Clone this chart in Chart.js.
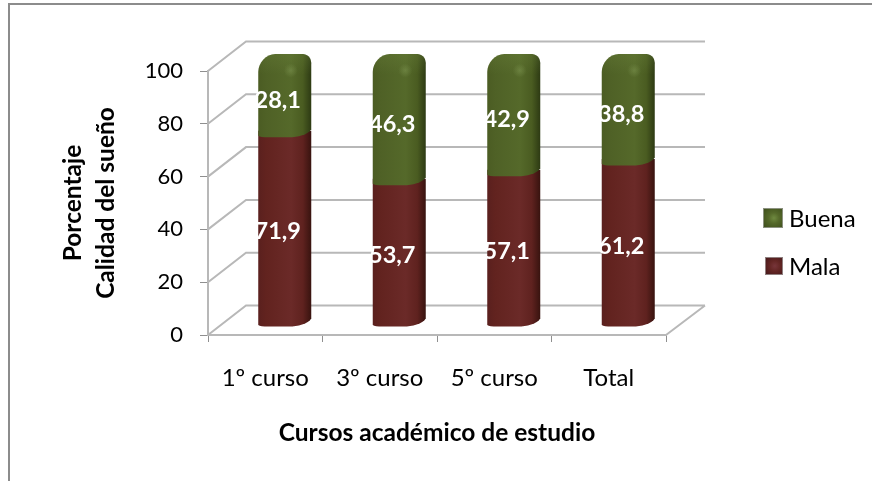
<!DOCTYPE html>
<html lang="es">
<head>
<meta charset="utf-8">
<title>Calidad del sueño</title>
<script src="https://cdn.jsdelivr.net/npm/chart.js@4"></script>
<style>
  html, body { margin: 0; padding: 0; background: #fff; }
  body { width: 872px; height: 481px; overflow: hidden; position: relative; font-family: Lato, sans-serif; }
  #frame { position: absolute; left: 8px; top: 3px; right: 0; bottom: 0; border-left: 2px solid #8c8c8c; border-top: 2px solid #8c8c8c; }
  canvas { position: absolute; left: 0; top: 0; }
  #legend { position: absolute; left: 763px; top: 198px; color: #000; font-size: 24px; }
  #legend div { position: absolute; left: 0; white-space: nowrap; height: 24px; line-height: 24px; }
  #legend i { position: absolute; box-sizing: border-box; border: 1px solid rgba(170,170,170,.7); }
  #legend span { position: absolute; left: 26px; top: 0; }
</style>
</head>
<body>
<div id="frame"></div>
<canvas id="chart" width="872" height="481"></canvas>
<div id="legend"></div>
<script>
const categories = ["1º curso", "3º curso", "5º curso", "Total"];
const mala = [71.9, 53.7, 57.1, 61.2];
const buena = [28.1, 46.3, 42.9, 38.8];
const yTicks = [0, 20, 40, 60, 80, 100];

const DEPTH_X = 38, DEPTH_Y = -29.5;   // oblique projection of the back wall
const BAR_DX = 19.5, BAR_DY = -14.5;   // cylinders stand mid depth
const LABEL_DX = 12.5, LABEL_DY = -8;
const GRID_COLOR = "#b8b8b8";

const palette = {
  Mala: ["#5a201e", "#62231f", "#6b2a28", "#5f221f", "#38130f"],
  Buena: ["#4b5c23", "#4f6126", "#55692a", "#4a5c21", "#2d3a13"],
};
const swatches = {
  Buena: "radial-gradient(circle at 55% 50%, #6f8a40 0, #55692a 40%, #3e4f1c 100%)",
  Mala: "radial-gradient(circle at 55% 50%, #77353a 0, #642624 45%, #47191b 100%)",
};

function sideGradient(ctx, cx, w, stops) {
  const g = ctx.createLinearGradient(cx - w / 2, 0, cx + w / 2, 0);
  [0, 0.15, 0.62, 0.84, 1].forEach((p, i) => g.addColorStop(p, stops[i]));
  return g;
}

// body of one stacked piece; the lower edge is the front arc of a skewed circle
function cylinderPath(ctx, cx, yTop, yBase, w, domed) {
  const r = w / 2;
  ctx.beginPath();
  ctx.moveTo(cx + r, yBase - 1.5);
  ctx.bezierCurveTo(cx + r - 3, yBase + 4, cx + r - 14, yBase + 6.5, cx + r - 22, yBase + 6.5);
  ctx.lineTo(cx - r + 10, yBase + 6.5);
  ctx.quadraticCurveTo(cx - r + 2, yBase + 6.5, cx - r, yBase + 5);
  if (domed) {
    ctx.lineTo(cx - r, yTop + 15.5);
    ctx.bezierCurveTo(cx - r, yTop + 6, cx - r + 8, yTop - 2.5, cx - r + 17, yTop - 2.5);
    ctx.lineTo(cx + r - 8, yTop - 2.5);
    ctx.bezierCurveTo(cx + r - 2, yTop - 2, cx + r, yTop + 3, cx + r, yTop + 7);
  } else {
    ctx.lineTo(cx - r, yTop);
    ctx.lineTo(cx + r, yTop);
  }
  ctx.closePath();
}

const cylinderPlugin = {
  id: "cylinders",
  beforeDatasetsDraw(chart) {
    const { ctx, scales: { x, y } } = chart;
    ctx.save();
    ctx.strokeStyle = GRID_COLOR;
    ctx.lineWidth = 2;
    ctx.beginPath();
    y.ticks.forEach(t => {
      const py = y.getPixelForValue(t.value);
      ctx.moveTo(x.left, py);
      ctx.lineTo(x.left + DEPTH_X, py + DEPTH_Y);
      ctx.lineTo(x.right + DEPTH_X + 1, py + DEPTH_Y);
    });
    const py0 = y.getPixelForValue(0);
    ctx.moveTo(x.right, py0);
    ctx.lineTo(x.right + DEPTH_X + 1, py0 + DEPTH_Y);
    ctx.stroke();
    ctx.restore();

    chart.data.datasets.forEach((ds, di) => {
      const domed = di === chart.data.datasets.length - 1;
      chart.getDatasetMeta(di).data.forEach(el => {
        const cx = el.x + BAR_DX, yTop = el.y + BAR_DY, yBase = el.base + BAR_DY;
        ctx.save();
        cylinderPath(ctx, cx, yTop, yBase, el.width, domed);
        ctx.fillStyle = sideGradient(ctx, cx, el.width, palette[ds.label]);
        ctx.fill();
        if (domed) {
          ctx.clip();
          const band = ctx.createLinearGradient(0, yTop - 2, 0, yTop + 18);
          band.addColorStop(0, "rgba(120,145,70,.22)");
          band.addColorStop(1, "rgba(120,145,70,0)");
          ctx.fillStyle = band;
          ctx.fillRect(cx - el.width / 2, yTop - 3, el.width, 22);
          const glow = ctx.createRadialGradient(cx + 6, yTop + 14, 0, cx + 6, yTop + 14, 7);
          glow.addColorStop(0, "rgba(135,160,90,.42)");
          glow.addColorStop(1, "rgba(135,160,90,0)");
          ctx.fillStyle = glow;
          ctx.fillRect(cx - 2, yTop + 6, 16, 16);
        }
        ctx.restore();
      });
    });
  },
  beforeDatasetDraw() {
    return false; // cylinders above replace the flat rectangles
  },
  afterDatasetsDraw(chart) {
    const { ctx } = chart;
    ctx.save();
    ctx.fillStyle = "#fff";
    ctx.font = "bold 23.5px Lato, sans-serif";
    ctx.textAlign = "center";
    ctx.textBaseline = "middle";
    chart.data.datasets.forEach((ds, di) => {
      chart.getDatasetMeta(di).data.forEach((el, i) => {
        const label = ds.data[i].toFixed(1).replace(".", ",");
        ctx.fillText(label, el.x + LABEL_DX, (el.y + el.base) / 2 + LABEL_DY);
      });
    });
    ctx.restore();
  },
};

const datasets = [
  { label: "Mala", data: mala, backgroundColor: "#652523", barPercentage: 0.463, categoryPercentage: 1 },
  { label: "Buena", data: buena, backgroundColor: "#4f6126", barPercentage: 0.463, categoryPercentage: 1 },
];

new Chart(document.getElementById("chart"), {
  type: "bar",
  data: { labels: categories, datasets },
  plugins: [cylinderPlugin],
  options: {
    responsive: false,
    animation: false,
    layout: { padding: { top: 71, right: 206, left: 0, bottom: 0 } },
    plugins: { legend: { display: false }, tooltip: { enabled: false } },
    scales: {
      x: {
        stacked: true,
        afterFit: s => { s.height = 146; },
        grid: { drawOnChartArea: false, color: "#8f8f8f", tickLength: 7, offset: true },
        border: { color: GRID_COLOR, width: 2 },
        ticks: { color: "#000", padding: 22, maxRotation: 0, font: { family: "Lato", size: 24 } },
        title: {
          display: true,
          text: "Cursos académico de estudio",
          color: "#000",
          font: { family: "Lato", size: 24.5, weight: "bold" },
          padding: { top: 0, bottom: 33 },
        },
      },
      y: {
        stacked: true,
        min: 0,
        max: 100,
        afterFit: s => { s.width = 208; },
        afterBuildTicks: s => { s.ticks = yTicks.map(value => ({ value })); },
        grid: { drawOnChartArea: false, color: "#8f8f8f", tickLength: 8 },
        border: { color: GRID_COLOR, width: 2 },
        ticks: { color: "#000", padding: 17, font: { family: "Lato", size: 22 } },
        title: {
          display: true,
          text: ["Porcentaje", "Calidad del sueño"],
          color: "#000",
          font: { family: "Lato", size: 24.5, weight: "bold", lineHeight: 1.36 },
          padding: { top: 56, bottom: 0 },
        },
      },
    },
  },
});

// legend sits apart from the plot, Buena above Mala
const legend = document.getElementById("legend");
const legendRows = [
  { top: 8, box: 20, left: 0 },
  { top: 56, box: 18, left: 2 },
];
datasets.slice().reverse().forEach((ds, i) => {
  const { top, box, left } = legendRows[i];
  const row = document.createElement("div");
  row.style.top = top + "px";
  const swatch = document.createElement("i");
  swatch.style.cssText = `left:${left}px;top:${(24 - box) / 2}px;width:${box}px;height:${box}px;background:${swatches[ds.label]}`;
  const text = document.createElement("span");
  text.textContent = ds.label;
  row.append(swatch, text);
  legend.appendChild(row);
});
</script>
</body>
</html>
